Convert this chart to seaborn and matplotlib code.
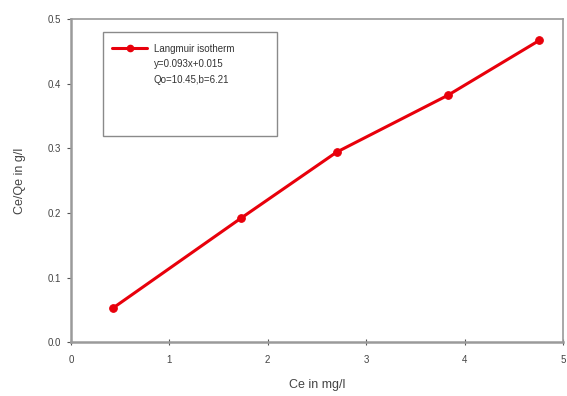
import matplotlib
matplotlib.use("Agg")
import matplotlib.pyplot as plt
from matplotlib.patches import Rectangle
from matplotlib.lines import Line2D
import seaborn as sns
import pandas as pd

# Langmuir isotherm linearised data
ce = [0.43, 1.73, 2.70, 3.83, 4.76]
ce_qe = [0.053, 0.192, 0.294, 0.382, 0.467]
legend_lines = ["Langmuir isotherm", "y=0.093x+0.015", "Qo=10.45,b=6.21"]
x_ticks = [0, 1, 2, 3, 4, 5]
y_ticks = [0.0, 0.1, 0.2, 0.3, 0.4, 0.5]

sns.set_theme(style="white")
plt.rcParams["font.family"] = ["Liberation Sans", "DejaVu Sans"]

df = pd.DataFrame({"Ce": ce, "CeQe": ce_qe})

fig = plt.figure(figsize=(5.67, 3.96), dpi=100)
ax = fig.add_axes([0.125, 0.136, 0.868, 0.816])

red = "#e8000b"
sns.lineplot(data=df, x="Ce", y="CeQe", ax=ax, color=red, linewidth=2.2,
             marker="o", markersize=5.5, markeredgecolor=red, markerfacecolor=red)

ax.set_xlim(0, 5)
ax.set_ylim(0, 0.5)
ax.set_xticks(x_ticks)
ax.set_xticklabels([str(v) for v in x_ticks])
ax.set_yticks(y_ticks)
ax.set_yticklabels([f"{v:.1f}" for v in y_ticks])
ax.tick_params(axis="x", direction="inout", length=5, width=0.8, colors="#555555",
               labelsize=7, labelcolor="#444444", pad=7)
ax.tick_params(axis="y", direction="out", length=3, width=0.8, colors="#555555",
               labelsize=7, labelcolor="#444444", pad=4)
ax.tick_params(bottom=True, left=True)

for side in ["left", "bottom"]:
    ax.spines[side].set_color("#9a9a9a")
    ax.spines[side].set_linewidth(1.8)
for side in ["top", "right"]:
    ax.spines[side].set_color("#9a9a9a")
    ax.spines[side].set_linewidth(1.2)

ax.set_xlabel("Ce in mg/l", fontsize=9, color="#444444", labelpad=10)
ax.set_ylabel("Ce/Qe in g/l", fontsize=9, color="#444444", labelpad=16)

# legend box
ax.add_patch(Rectangle((0.065, 0.638), 0.354, 0.322, transform=ax.transAxes,
                       fill=False, edgecolor="#8a8a8a", linewidth=1.0, zorder=3))
handles = [Line2D([], [], color=red, linewidth=2.2, marker="o", markersize=4.5),
           Line2D([], [], linestyle="none"),
           Line2D([], [], linestyle="none")]
leg = ax.legend(handles, legend_lines, loc="upper left",
                bbox_to_anchor=(0.07, 0.945), frameon=False, fontsize=7,
                handlelength=3.6, handletextpad=0.7, labelspacing=0.6,
                borderpad=0.2)
for t in leg.get_texts():
    t.set_color("#333333")

fig.savefig("out.png", dpi=100)
